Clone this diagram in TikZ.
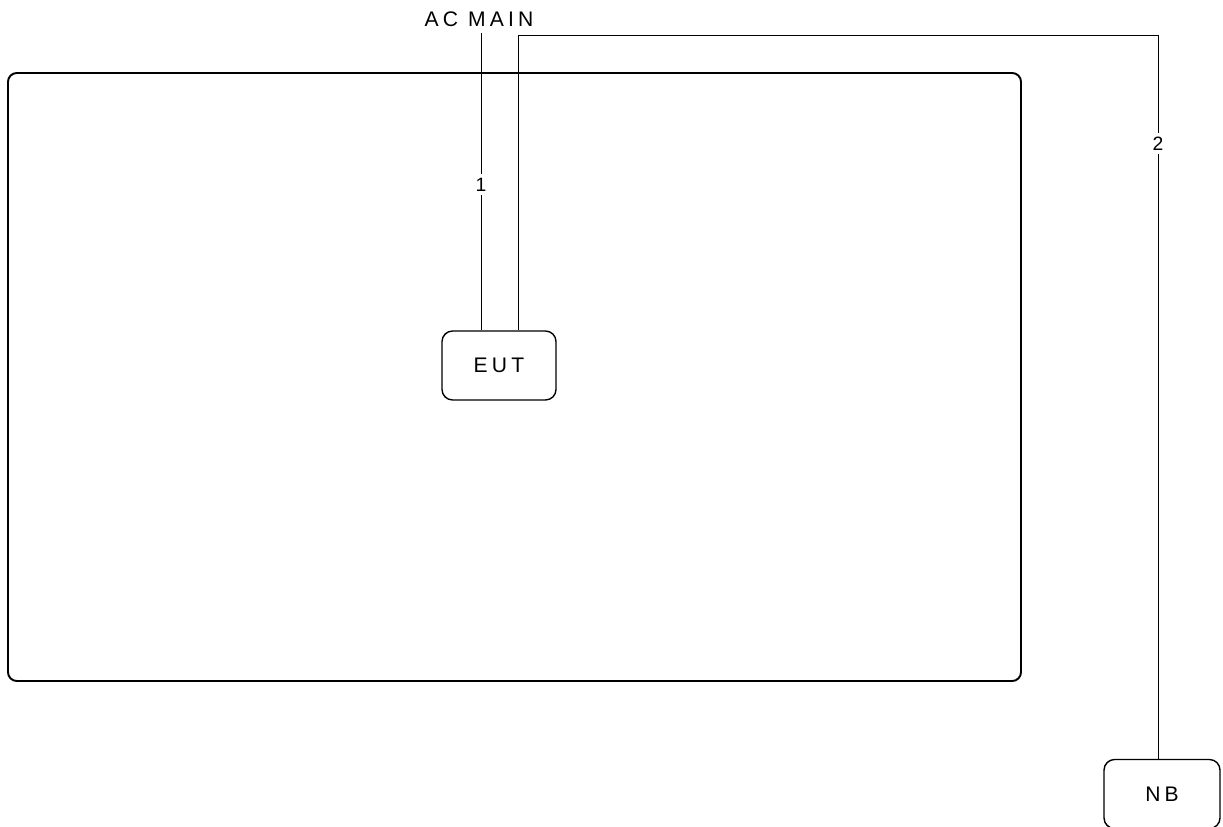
\documentclass[tikz,border=0pt]{standalone}
\usepackage{fontspec}
\setmainfont{Liberation Sans}
\usepackage{tikz}
\usetikzlibrary{positioning,calc}

\begin{document}
\begin{tikzpicture}[
    x=0.02cm, y=-0.02cm,
    unit/.style={rectangle, rounded corners=6pt, draw, line width=0.8pt, minimum width=2.28cm, minimum height=1.38cm, font=\fontsize{12}{14}\selectfont\addfontfeature{LetterSpace=20}},
    cable/.style={line width=0.55pt},
    tag/.style={fill=white, inner sep=2pt, font=\fontsize{11}{13}\selectfont}
]
    \useasboundingbox (0,0) rectangle (1223,827);

    % Table outline
    \draw[line width=1.1pt, rounded corners=5pt] (8,73) rectangle (1021,681);

    % Units
    \node[unit] (eut) at (499,365.5) {EUT};
    \node[unit, minimum width=2.32cm] (nb) at (1162,794) {NB};
    \node[font=\fontsize{12}{14}\selectfont\addfontfeature{LetterSpace=20}, inner sep=1pt] (acmain) at (479,19) {AC MAIN};

    % Cable 1 - power
    \coordinate (p1) at ($(eut.north)+(-18,0)$);
    \draw[cable] (p1) -- (p1 |- 0,33) node[tag, pos=0.49] {1};

    % Cable 2 - to NB
    \coordinate (p2) at ($(eut.north)+(19,0)$);
    \coordinate (n2) at ($(nb.north)+(-4,0)$);
    \draw[cable] (p2) -- (p2 |- 0,35) -- (n2 |- 0,35) -- (n2) node[tag, pos=0.15] {2};
\end{tikzpicture}
\end{document}
